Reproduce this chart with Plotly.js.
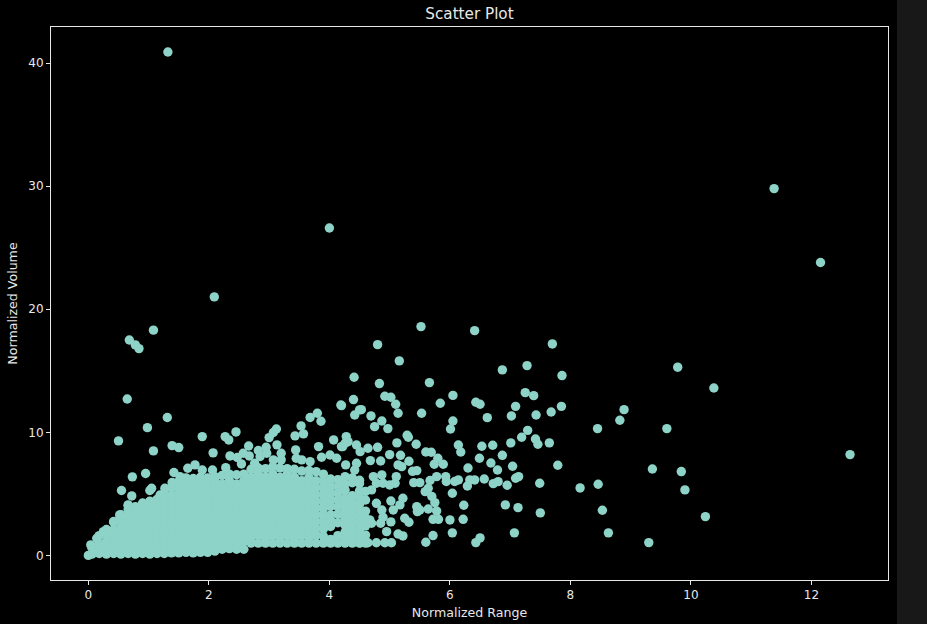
<!DOCTYPE html>
<html>
<head>
<meta charset="utf-8">
<script src="https://cdn.plot.ly/plotly-3.0.1.min.js"></script>
<style>html,body{margin:0;padding:0;background:#181818;overflow:hidden}#chart{width:897px;height:624px}</style>
</head>
<body>
<div id="chart"></div>
<script>
const chartTitle = "Scatter Plot";
const xAxisLabel = "Normalized Range";
const yAxisLabel = "Normalized Volume";
const xTicks = [0, 2, 4, 6, 8, 10, 12];
const yTicks = [0, 10, 20, 30, 40];

const sparseX = [1.32,11.38,12.15,4.0,2.09,1.08,0.68,0.78,0.84,5.52,6.41,4.80,7.70,5.16,6.87,7.28,7.86,4.41,4.83,5.66,4.40,4.92,5.02,5.10,5.14,4.20,4.53,4.42,4.69,4.87,4.75,4.97,5.53,5.84,6.05,6.05,6.01,6.43,6.50,6.62,7.09,7.02,7.25,7.39,7.43,7.68,7.85,8.89,8.82,8.45,7.29,7.19,7.01,7.42,7.46,7.65,7.79,9.36,8.46,8.16,7.49,7.14,7.09,6.95,7.04,6.87,6.71,6.53,6.49,6.68,6.79,6.57,6.80,6.72,6.92,7.13,7.50,8.53,8.63,9.30,7.07,6.50,6.43,6.04,6.22,6.0,6.23,6.04,6.30,6.29,6.33,6.41,6.14,6.18,5.80,5.89,5.74,5.44,5.29,5.31,5.12,4.80,5.60,5.69,5.45,5.38,5.32,5.18,5.0,4.68,4.85,5.40,5.50,5.67,5.78,5.93,5.94,6.14,6.08,5.59,5.64,5.70,5.75,5.64,5.78,5.72,5.81,5.45,5.50,5.46,5.22,5.17,5.06,5.02,5.25,5.32,5.02,4.89,4.85,4.95,5.14,5.22,5.72,5.60,4.51,4.64,4.78,4.92,5.03,4.53,4.67,4.70,4.87,4.73,4.78,5.11,5.09,4.89,5.0,4.70,4.78,4.87,5.14,5.2,4.45,4.42,4.28,4.31,4.45,4.51,4.64,4.22,4.27,9.78,10.38,9.6,12.64,9.84,9.9,10.24];
const sparseY = [40.9,29.8,23.8,26.6,21.0,18.3,17.5,17.1,16.8,18.59,18.26,17.12,17.18,15.8,15.07,15.42,14.61,14.47,13.96,14.04,12.66,12.93,12.85,12.28,11.55,12.17,11.84,11.41,11.33,10.92,10.46,10.3,11.55,12.36,13.0,10.92,10.27,12.44,12.28,11.19,12.11,11.33,13.22,12.98,11.41,11.65,12.11,11.84,10.98,10.3,10.16,9.6,9.14,9.46,9.03,9.14,7.32,7.02,5.78,5.48,5.86,6.40,6.27,5.7,7.24,8.13,8.95,8.87,7.89,7.51,6.94,6.21,5.99,5.83,4.1,3.88,3.45,3.67,1.83,1.04,1.83,1.42,1.04,1.83,2.93,2.88,4.07,5.05,7.1,5.64,6.13,6.13,8.97,8.4,7.89,7.4,7.4,9.03,9.76,9.6,9.14,8.78,8.4,8.38,6.89,6.83,7.65,8.13,8.19,7.7,7.67,5.91,5.91,6.08,6.4,6.4,6.0,6.13,6.0,5.18,5.45,4.78,4.29,3.77,3.61,2.93,2.93,3.96,3.69,3.56,4.64,4.1,3.69,4.42,3.02,2.69,2.72,3.1,2.61,1.93,1.74,1.58,1.61,1.07,1.03,1.03,1.03,1.03,1.03,1.61,2.88,2.61,6.54,6.4,5.86,6.4,5.86,5.86,5.72,5.32,4.23,3.69,7.35,7.21,7.48,6.94,9.65,9.24,8.97,8.43,8.7,8.84,7.35,15.29,13.6,10.3,8.19,6.81,5.32,3.15];

const edgeX = [0.645,1.31,0.98,0.50,1.08,1.39,1.50,3.80,4.19,3.68,3.86,4.50,3.12,3.07,3.0,3.53,3.57,3.43,2.45,2.27,2.33,1.89,2.07,4.07,4.26,4.2,3.82,3.13,3.2,2.95,2.82,2.66,2.57,2.67,2.35,2.47,2.54,3.44,3.45,3.54,3.87,4.01,4.12,3.68,3.07,3.2,2.85,2.96,2.76,1.77,1.65,1.89,2.06,2.28,1.42,1.52,0.95,0.73,1.39,1.05,1.02,0.55,0.72,1.27,1.19,1.02,0.66,0.52,0.42,0.25,0.14,0.04,0.0];
const edgeY = [12.71,11.2,10.38,9.3,8.49,8.92,8.76,11.55,12.22,11.2,10.9,11.82,10.27,9.98,9.57,10.52,9.87,9.71,10.03,9.65,9.38,9.65,8.33,9.38,9.11,8.84,8.84,8.98,8.3,8.79,8.52,8.89,8.3,8.08,8.08,7.95,7.43,8.57,7.89,7.76,7.97,8.16,7.89,7.62,7.76,7.76,8.03,8.3,7.49,7.35,7.08,6.94,6.94,7.13,6.73,6.4,6.65,6.38,5.92,5.45,5.27,5.27,4.83,5.45,4.91,4.37,4.1,3.29,2.75,1.93,1.39,0.85,0.0];

const denseColumnX = [0.06,0.18,0.30,0.42,0.54,0.66,0.78,0.90,1.02,1.14,1.26,1.38,1.50,1.62,1.74,1.86,1.98,2.10,2.22,2.34,2.46,2.58,2.70,2.82,2.94,3.06,3.18,3.30,3.42,3.54,3.66,3.78,3.90,4.02,4.14,4.26,4.38,4.50,4.60];
const denseColumnY = [
 [0.1,0.6],
 [0.15,0.42,0.97,1.6],
 [0.1,0.6,1.15,1.7,2.1],
 [0.15,0.42,0.97,1.52,2.07,2.7],
 [0.1,0.6,1.15,1.7,2.25,2.8,3.3],
 [0.15,0.42,0.97,1.52,2.07,2.62,3.17,3.72,4.05],
 [0.1,0.65,1.2,1.75,2.3,2.85,3.4,3.95],
 [0.15,0.42,0.97,1.52,2.07,2.62,3.17,3.72,4.25],
 [0.1,0.65,1.2,1.75,2.3,2.85,3.4,3.95,4.4],
 [0.15,0.42,0.97,1.52,2.07,2.62,3.17,3.72,4.27,4.55],
 [0.15,0.65,1.2,1.75,2.3,2.85,3.4,3.95,4.5,5.05],
 [0.2,0.47,1.02,1.57,2.12,2.67,3.22,3.77,4.32,4.87,5.5],
 [0.2,0.75,1.3,1.85,2.4,2.95,3.5,4.05,4.6,5.15,5.7,6.0],
 [0.25,0.47,1.02,1.57,2.12,2.67,3.22,3.77,4.32,4.87,5.42,5.97,6.3],
 [0.2,0.75,1.3,1.85,2.4,2.95,3.5,4.05,4.6,5.15,5.7,6.25],
 [0.25,0.47,1.02,1.57,2.12,2.67,3.22,3.77,4.32,4.87,5.42,5.97,6.35],
 [0.25,0.75,1.3,1.85,2.4,2.95,3.5,4.05,4.6,5.15,5.7,6.3],
 [0.35,0.57,1.12,1.67,2.22,2.77,3.32,3.87,4.42,4.97,5.52,6.07,6.4],
 [0.5,0.85,1.4,1.95,2.5,3.05,3.6,4.15,4.7,5.25,5.8,6.5],
 [0.55,1.12,1.67,2.22,2.77,3.32,3.87,4.42,4.97,5.52,6.07,6.6],
 [0.5,0.85,1.4,1.95,2.5,3.05,3.6,4.15,4.7,5.25,5.8,6.55],
 [0.5,1.12,1.67,2.22,2.77,3.32,3.87,4.42,4.97,5.52,6.07,6.6],
 [1.0,1.4,1.95,2.5,3.05,3.6,4.15,4.7,5.25,5.8,6.35,7.0],
 [1.0,1.67,2.22,2.77,3.32,3.87,4.42,4.97,5.52,6.07,6.62,7.1],
 [1.0,1.4,1.95,2.5,3.05,3.6,4.15,4.7,5.25,5.8,6.35,7.05],
 [1.0,1.67,2.22,2.77,3.32,3.87,4.42,4.97,5.52,6.07,6.62,7.2],
 [1.0,1.4,1.95,2.5,3.05,3.6,4.15,4.7,5.25,5.8,6.35,7.1],
 [1.0,1.67,2.22,2.77,3.32,3.87,4.42,4.97,5.52,6.07,6.62,7.05],
 [1.0,1.4,1.95,2.5,3.05,3.6,4.15,4.7,5.25,5.8,6.35,7.0],
 [1.0,1.67,2.22,2.77,3.32,3.87,4.42,4.97,5.52,6.07,6.85],
 [1.0,1.4,1.95,2.5,3.05,3.6,4.15,4.7,5.25,5.8,6.35,6.9],
 [1.0,1.67,2.22,2.77,3.32,3.87,4.42,4.97,5.52,6.07,6.8],
 [1.0,1.55,2.15,2.7,3.25,3.8,4.35,4.9,5.45,6.0,6.6],
 [1.0,1.3,2.35,2.85,3.3,4.0,4.55,5.1,5.65,6.2],
 [1.0,1.6,2.65,3.35,3.95,4.5,5.05,5.6,6.15],
 [1.0,1.35,1.9,2.45,3.0,3.55,4.1,4.65,5.3,5.8,6.4],
 [1.0,1.55,2.1,2.65,3.2,3.75,4.3,4.85,5.9,6.3],
 [1.0,1.4,1.95,2.5,3.05,3.6,4.15,4.7,5.25,5.85,6.1],
 [1.0,1.65,2.4,3.0,3.6,4.5,5.2]
];

const denseX = denseColumnX.flatMap((x, i) => denseColumnY[i].map(() => x));
const denseY = denseColumnY.flat();

const inkColor = "#e8e8e8";
const traces = [{
  type: "scatter", mode: "markers",
  x: denseX.concat(edgeX, sparseX),
  y: denseY.concat(edgeY, sparseY),
  marker: {color: "#8dd3c7", size: 9.4, line: {width: 0}},
  hoverinfo: "x+y"
}];

const axisBase = {
  showgrid: false, zeroline: false, showline: true, mirror: true,
  linecolor: inkColor, linewidth: 1, ticks: "outside", ticklen: 4, tickwidth: 1,
  tickcolor: inkColor, tickfont: {family: "DejaVu Sans", size: 12, color: inkColor}
};

const layout = {
  width: 897, height: 624,
  paper_bgcolor: "#000000", plot_bgcolor: "#000000",
  margin: {l: 51, r: 9, t: 27, b: 44},
  showlegend: false,
  title: {text: chartTitle, x: 0.5234, xanchor: "center", y: 0.978, yanchor: "middle",
          font: {family: "DejaVu Sans", size: 15.2, color: inkColor}},
  xaxis: Object.assign({}, axisBase, {
    range: [-0.62, 13.27], tickmode: "array", tickvals: xTicks, ticktext: xTicks.map(String),
    title: {text: xAxisLabel, standoff: 6, font: {family: "DejaVu Sans", size: 12.6, color: inkColor}}
  }),
  yaxis: Object.assign({}, axisBase, {
    range: [-2.0, 42.93], tickmode: "array", tickvals: yTicks, ticktext: yTicks.map(String),
    title: {text: yAxisLabel, standoff: 7, font: {family: "DejaVu Sans", size: 12.6, color: inkColor}}
  })
};

Plotly.newPlot("chart", traces, layout, {displayModeBar: false, responsive: false});
</script>
</body>
</html>
